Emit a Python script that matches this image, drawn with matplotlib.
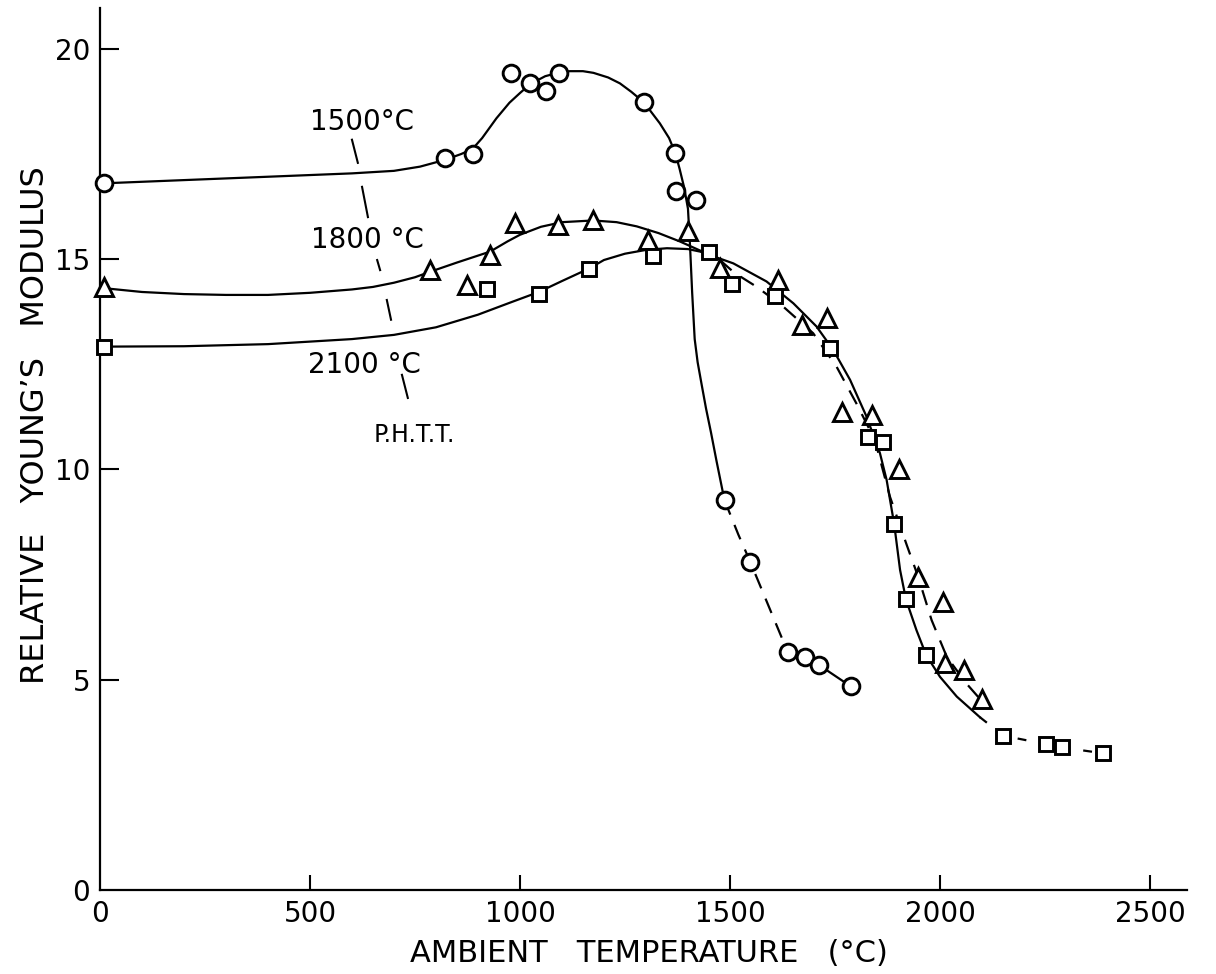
import matplotlib
matplotlib.use("Agg")
import matplotlib.pyplot as plt

plt.rcParams['font.family'] = ['DejaVu Sans']

# Measured points (ambient temperature in C, relative Young's modulus)
t_1500 = [10, 821, 887, 978, 1024, 1063, 1094, 1295, 1370, 1372, 1419, 1487, 1548, 1637, 1679, 1712, 1788]
e_1500 = [16.81, 17.40, 17.49, 19.43, 19.18, 19.01, 19.43, 18.73, 17.52, 16.61, 16.41, 9.27, 7.81, 5.67, 5.55, 5.35, 4.84]

t_1800 = [10, 786, 875, 929, 987, 1091, 1173, 1304, 1401, 1476, 1615, 1671, 1732, 1766, 1837, 1903, 1948, 2008, 2012, 2058, 2099]
e_1800 = [14.34, 14.74, 14.39, 15.10, 15.85, 15.81, 15.93, 15.46, 15.66, 14.78, 14.51, 13.44, 13.59, 11.37, 11.30, 10.0, 7.45, 6.86, 5.39, 5.23, 4.54]

t_2100 = [10, 922, 1045, 1165, 1317, 1451, 1504, 1607, 1738, 1829, 1865, 1891, 1919, 1967, 2151, 2252, 2291, 2389]
e_2100 = [12.92, 14.28, 14.17, 14.77, 15.08, 15.18, 14.41, 14.13, 12.88, 10.78, 10.66, 8.70, 6.91, 5.59, 3.67, 3.47, 3.39, 3.25]

# Hand-drawn fitted curves
fit_1500_t = [0, 200, 400, 600, 700, 762, 821, 860, 887, 910, 944, 975, 1000, 1024, 1060, 1094, 1119, 1150,
              1175, 1210, 1238, 1265, 1295, 1333, 1355, 1370, 1380, 1391, 1400, 1405, 1410, 1416, 1423, 1432,
              1443, 1455, 1468, 1482, 1487]
fit_1500_e = [16.8, 16.88, 16.96, 17.04, 17.1, 17.2, 17.36, 17.5, 17.62, 17.88, 18.35, 18.72, 18.95, 19.16,
              19.35, 19.44, 19.47, 19.47, 19.43, 19.32, 19.18, 18.98, 18.73, 18.23, 17.88, 17.52, 17.15, 16.7,
              16.2, 15.3, 14.2, 13.1, 12.55, 12.05, 11.45, 10.87, 10.2, 9.51, 9.27]
dash_1500_t = [1487, 1520, 1548, 1590, 1637]
dash_1500_e = [9.27, 8.45, 7.81, 6.8, 5.67]
tail_1500_t = [1637, 1679, 1712, 1788]
tail_1500_e = [5.67, 5.55, 5.35, 4.84]

fit_1800_t = [0, 100, 200, 300, 400, 500, 600, 650, 700, 750, 786, 850, 929, 970, 1000, 1050, 1100, 1174,
              1230, 1278, 1330, 1381, 1430, 1476]
fit_1800_e = [14.32, 14.22, 14.17, 14.15, 14.15, 14.2, 14.28, 14.34, 14.44, 14.57, 14.7, 14.92, 15.18, 15.42,
              15.58, 15.77, 15.88, 15.92, 15.88, 15.78, 15.62, 15.42, 15.2, 14.98]
dash_1800_t = [1476, 1510, 1564, 1627, 1698, 1754, 1801, 1845, 1881, 1921, 1948, 1980, 2016, 2063, 2099]
dash_1800_e = [14.98, 14.68, 14.34, 13.87, 13.24, 12.44, 11.57, 10.7, 9.35, 8.2, 7.45, 6.42, 5.55, 4.91, 4.5]

fit_2100_t = [0, 200, 400, 600, 700, 800, 900, 980, 1045, 1100, 1165, 1200, 1250, 1300, 1350, 1400, 1429,
              1508, 1587, 1651, 1706, 1746, 1786, 1825, 1857, 1873, 1891, 1905, 1919, 1944, 1967, 2000, 2040, 2095]
fit_2100_e = [12.92, 12.93, 12.98, 13.1, 13.2, 13.38, 13.68, 13.98, 14.22, 14.48, 14.78, 14.98, 15.13, 15.22,
              15.26, 15.24, 15.18, 14.9, 14.47, 13.95, 13.4, 12.84, 12.13, 11.26, 10.39, 9.75, 8.70, 7.61,
              6.91, 6.18, 5.59, 5.07, 4.6, 4.11]
dash_2100_t = [2095, 2151, 2252, 2291, 2389]
dash_2100_e = [4.11, 3.67, 3.47, 3.39, 3.25]

# P.H.T.T. labels and the leader strokes between them
labels = ["1500°C", "1800 °C", "2100 °C", "P.H.T.T."]
label_pos = [(624, 18.26), (636, 15.46), (629, 12.48), (748, 10.82)]
label_size = [20, 20, 20, 17]
leaders = [((600, 614), (17.84, 17.29)), ((624, 638), (16.72, 16.0)), ((660, 667), (14.98, 14.74)),
           ((683, 693), (14.03, 13.56)), ((719, 733), (12.25, 11.70))]

fig = plt.figure(figsize=(12.16, 9.74), dpi=100)
ax = fig.add_axes([0.0822, 0.0862, 0.8939, 0.9055])

lw = 1.6
ax.plot(fit_1500_t, fit_1500_e, color='black', lw=lw, zorder=2)
ax.plot(dash_1500_t, dash_1500_e, color='black', lw=lw, dashes=(7, 5), zorder=2)
ax.plot(tail_1500_t, tail_1500_e, color='black', lw=lw, zorder=2)
ax.plot(fit_1800_t, fit_1800_e, color='black', lw=lw, zorder=2)
ax.plot(dash_1800_t, dash_1800_e, color='black', lw=lw, dashes=(7, 5), zorder=2)
ax.plot(fit_2100_t, fit_2100_e, color='black', lw=lw, zorder=2)
ax.plot(dash_2100_t, dash_2100_e, color='black', lw=lw, dashes=(4, 6), zorder=2)

mk = dict(linestyle='none', mfc='white', mec='black', mew=2.1, zorder=3, clip_on=False)
ax.plot(t_1500, e_1500, marker='o', ms=12, **mk)
ax.plot(t_1800, e_1800, marker='^', ms=12.5, **mk)
ax.plot(t_2100, e_2100, marker='s', ms=9.5, **mk)

for txt, (x, y), fs in zip(labels, label_pos, label_size):
    ax.text(x, y, txt, fontsize=fs, ha='center', va='center')
for xs, ys in leaders:
    ax.plot(xs, ys, color='black', lw=1.5)

ax.set_xlim(0, 2588)
ax.set_ylim(0, 20.97)
for s in ['top', 'right']:
    ax.spines[s].set_visible(False)
for s in ['left', 'bottom']:
    ax.spines[s].set_linewidth(1.6)

ax.set_xticks([0, 500, 1000, 1500, 2000, 2500])
ax.set_yticks([0, 5, 10, 15, 20])
ax.tick_params(axis='x', direction='in', length=11, width=1.5, pad=7, labelsize=20)
ax.tick_params(axis='y', direction='in', length=14, width=1.5, pad=7, labelsize=20)
ax.xaxis.get_major_ticks()[0].tick1line.set_visible(False)
ax.yaxis.get_major_ticks()[0].tick1line.set_visible(False)

ax.set_xlabel("AMBIENT   TEMPERATURE   (°C)", fontsize=22)
ax.set_ylabel("RELATIVE   YOUNG’S   MODULUS", fontsize=23)
ax.xaxis.set_label_coords(0.505, -0.056)
ax.yaxis.set_label_coords(-0.045, 0.527)

fig.savefig("out.png", dpi=100)
